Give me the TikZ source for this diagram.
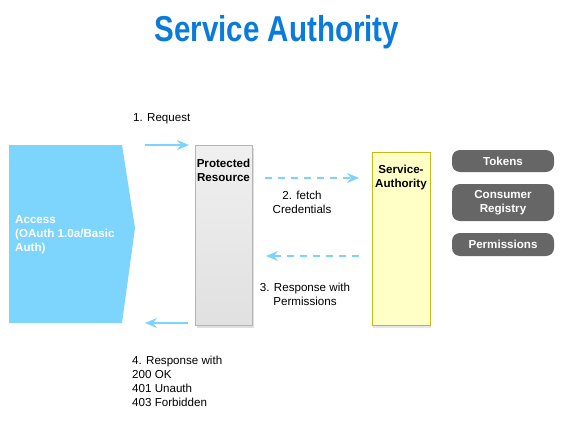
\documentclass[tikz,border=0pt]{standalone}
\usepackage{fontspec}
\setmainfont{Liberation Sans}
\newfontfamily\titlefont[FakeStretch=0.82]{Liberation Sans}
\usetikzlibrary{arrows.meta,shadows}
\definecolor{titleblue}{HTML}{0A7BDC}
\definecolor{accblue}{HTML}{7DD4FD}
\definecolor{arrblue}{HTML}{7CD3FC}
\definecolor{pillgray}{HTML}{666666}
\definecolor{saFill}{HTML}{FFFFC6}
\definecolor{saDraw}{HTML}{BEBE1A}
\definecolor{prDraw}{HTML}{B4B4B4}
\tikzset{
  lbl/.style={font=\fontsize{11.6}{14}\selectfont, inner sep=0pt},
  flow/.style={draw=arrblue, line width=1.4pt, -{Stealth[length=12pt,width=10pt,inset=4pt]}},
  dflow/.style={flow, dash pattern=on 7pt off 6pt},
  pill/.style={fill=pillgray, rounded corners=8pt, text=white, font=\bfseries\fontsize{11.6}{14}\selectfont, align=center, minimum width=102pt, inner sep=0pt},
  boxlabel/.style={font=\bfseries\fontsize{11.6}{14}\selectfont, align=center, inner sep=0pt}
}
\begin{document}
\begin{tikzpicture}[x=1pt,y=-1pt]
\useasboundingbox (0,0) rectangle (564,425);
% title
\node[text=titleblue, font=\titlefont\bfseries\fontsize{36}{40}\selectfont, inner sep=0pt] (title) at (277,32) {Service Authority};

% access shape
\fill[accblue] (9,145) -- (122,145) -- (135,228) -- (122,323) -- (9,323) -- cycle;
\node[text=white, font=\bfseries\fontsize{11.6}{14}\selectfont, align=left, anchor=west, inner sep=0pt] (access) at (15,235) {Access\\(OAuth 1.0a/Basic\\Auth)};

% protected resource
\node[draw=prDraw, top color=white!94!black, bottom color=white!88!black, drop shadow={opacity=0.25, shadow xshift=2pt, shadow yshift=-3pt}, minimum width=57pt, minimum height=180pt, inner sep=0pt] (pr) at (223.5,235) {};
\node[boxlabel] (prlabel) at (223.5,170) {Protected\\Resource};

% service authority
\node[draw=saDraw, fill=saFill, drop shadow={opacity=0.2, shadow xshift=1pt, shadow yshift=-3pt}, minimum width=58pt, minimum height=173pt, inner sep=0pt] (sa) at (401,238.5) {};
\node[boxlabel] (salabel) at (401,177.5) {Service-\\Authority};

% pills
\node[pill, minimum height=22pt] (tokens) at (503,161) {Tokens};
\node[pill, minimum height=37pt] (registry) at (503,202.5) {Consumer\\Registry};
\node[pill, minimum height=23pt] (perms) at (503,244.5) {Permissions};

% connector end points
\coordinate (a1s) at (145,145);
\coordinate (a1e) at (189,145);
\coordinate (a2s) at (265,178);
\coordinate (a2e) at (359,178);
\coordinate (a3s) at (359,256);
\coordinate (a3e) at (266,256);
\coordinate (a4s) at (188,323);
\coordinate (a4e) at (145,323);

% arrows
\draw[flow] (a1s) -- (a1e);
\draw[dflow] (a2s) -- (a2e);
\draw[dflow] (a3s) -- (a3e);
\draw[flow] (a4s) -- (a4e);

% labels
\node[lbl, anchor=west] (l1) at (133,119) {1. Request};
\node[lbl, align=center] (l2) at (302,202.5) {2. fetch\\Credentials};
\node[lbl, align=center] (l3) at (305,294.5) {3. Response with\\Permissions};
\node[lbl, align=left, anchor=north west] (l4) at (132,356) {4. Response with\\200 OK\\401 Unauth\\403 Forbidden};
\end{tikzpicture}
\end{document}
